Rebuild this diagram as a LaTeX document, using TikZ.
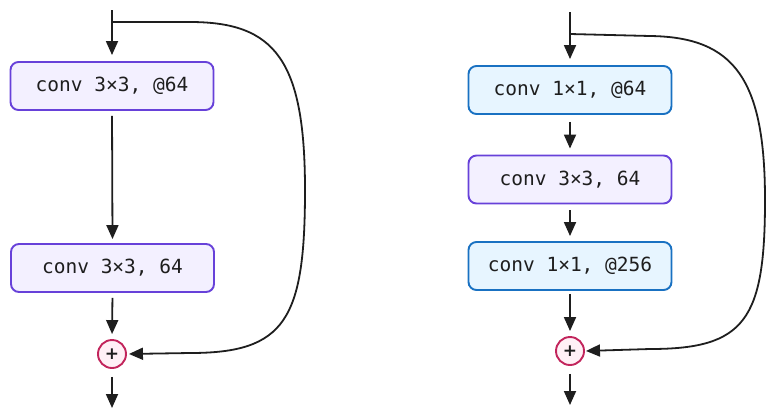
\documentclass[tikz,border=0pt]{standalone}
\usepackage{fontspec}
\setmonofont{DejaVu Sans Mono}
\setsansfont{DejaVu Sans}
\usetikzlibrary{arrows.meta}
\definecolor{violetline}{HTML}{6741D9}
\definecolor{violetfill}{HTML}{F3F0FF}
\definecolor{blueline}{HTML}{1971C2}
\definecolor{bluefill}{HTML}{E7F5FF}
\definecolor{pinkline}{HTML}{C2255C}
\definecolor{pinkfill}{HTML}{FFF0F6}
\definecolor{ink}{HTML}{1E1E1E}
\begin{document}
\begin{tikzpicture}[x=1pt,y=-1pt,
  conv/.style={draw,line width=1.9pt,rounded corners=8pt,minimum width=203pt,minimum height=48pt,
    font=\ttfamily\fontsize{19.5}{21}\selectfont,text=ink},
  convA/.style={conv,draw=violetline,fill=violetfill},
  convB/.style={conv,draw=blueline,fill=bluefill},
  plus/.style={circle,draw=pinkline,fill=pinkfill,line width=1.9pt,minimum size=28pt,inner sep=0pt,
    font=\sffamily\bfseries\fontsize{17}{17}\selectfont,text=ink},
  flow/.style={draw=ink,line width=1.8pt,-{Triangle[length=14pt,width=12pt]}}]
\useasboundingbox (0,0) rectangle (775,416);
  % basic block
\coordinate (inL) at (112,10);
\coordinate (skipL) at (112,22);
\node[convA] (c1L) at (112,86) {conv 3×3, @64};
\node[convA] (c2L) at (112.5,268) {conv 3×3, 64};
\node[plus] (addL) at (112,354) {+};
\coordinate (outL) at (112,408);
\draw[flow,shorten >=6pt] (inL) -- (c1L.north);
\draw[flow,shorten <=5pt,shorten >=4pt] (c1L.south) -- (c2L.north);
\draw[flow,shorten <=5pt,shorten >=5pt] (c2L.south) -- (addL.north);
\draw[flow,shorten <=8pt] (addL.south) -- (outL);
\draw[flow,shorten >=2pt] (skipL) -- (190,22) .. controls (275,22) and (305,60) .. (305,190)
   .. controls (305,320) and (285,353) .. (190,353) -- (addL.east);
  % bottleneck block
\coordinate (inR) at (570,12);
\coordinate (skipR) at (570,34);
\node[convB] (c1R) at (570,90) {conv 1×1, @64};
\node[convA] (c2R) at (570,179.5) {conv 3×3, 64};
\node[convB] (c3R) at (570,266) {conv 1×1, @256};
\node[plus] (addR) at (570,351) {+};
\coordinate (outR) at (570,405);
\draw[flow,shorten >=6pt] (inR) -- (c1R.north);
\draw[flow,shorten <=7pt,shorten >=6pt] (c1R.south) -- (c2R.north);
\draw[flow,shorten <=6pt,shorten >=5pt] (c2R.south) -- (c3R.north);
\draw[flow,shorten <=3pt,shorten >=5pt] (c3R.south) -- (addR.north);
\draw[flow,shorten <=8pt] (addR.south) -- (outR);
\draw[flow,shorten >=1pt] (skipR) -- (650,36) .. controls (735,37) and (765,80) .. (765,200)
   .. controls (765,320) and (745,349) .. (650,349) -- (addR.east);
\end{tikzpicture}
\end{document}
